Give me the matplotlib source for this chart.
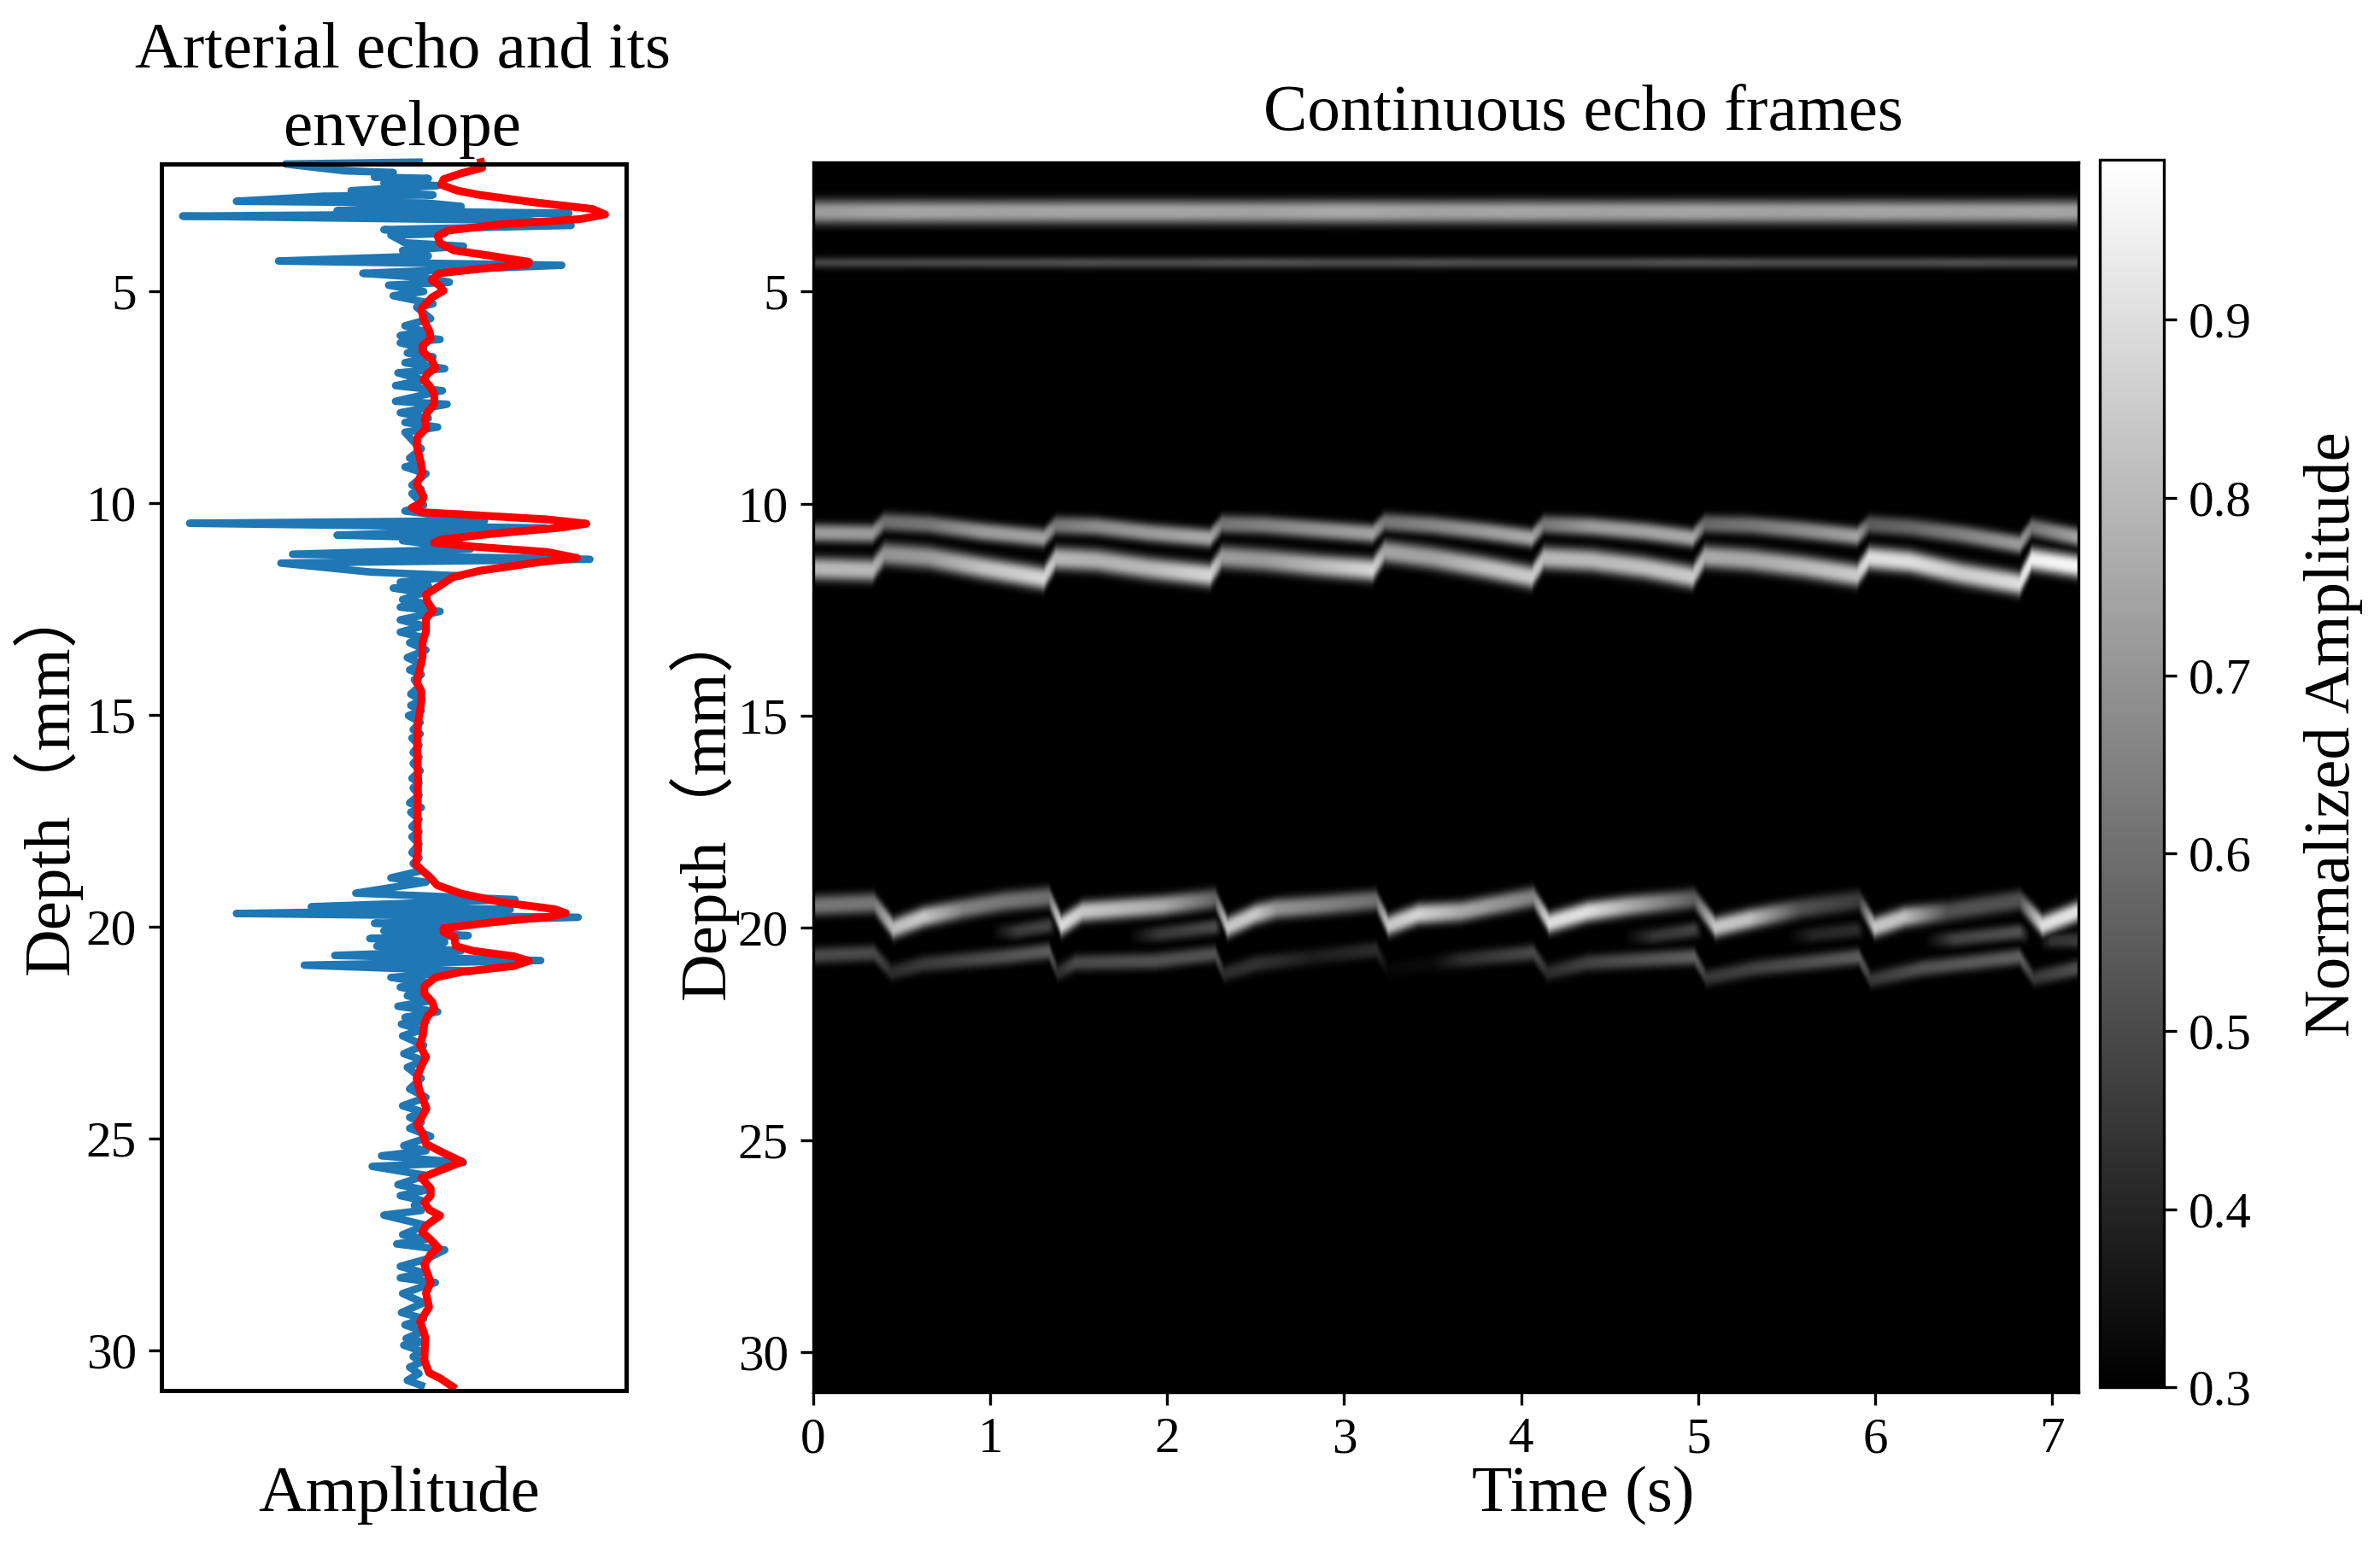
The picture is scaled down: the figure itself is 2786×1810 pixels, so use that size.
import numpy as np
import matplotlib
matplotlib.use('Agg')
import matplotlib.pyplot as plt

plt.rcParams['font.family'] = ['Liberation Serif', 'Noto Sans CJK SC']

W, H = 2787, 1810

# ---- left panel: echo turning points (depth mm, amplitude) ----
echo_left_depth = [2.00,2.16,2.31,2.45,2.63,2.76,2.88,3.10,3.23,3.55,3.68,3.86,4.04,4.29,4.58,4.86,5.11,5.38,5.82,6.05,6.22,6.46,6.69,6.93,7.23,7.60,7.87,8.10,8.33,8.57,8.94,9.15,9.58,9.78,10.19,10.48,10.76,10.89,11.21,11.42,11.63,11.87,12.01,12.28,12.46,12.76,13.05,13.30,13.65,13.94,14.17,14.51,14.78,15.02,15.35,15.55,15.89,16.15,16.50,16.73,17.08,17.30,17.64,17.88,18.25,18.51,18.85,19.21,19.53,19.69,19.92,20.10,20.28,20.46,20.68,20.91,21.20,21.43,21.63,21.88,22.14,22.30,22.58,23.00,23.32,23.83,24.23,24.50,24.76,25.17,25.41,25.66,26.09,26.35,26.58,26.81,27.27,27.49,28.02,28.29,28.66,29.11,29.40,29.72,29.88,30.15,30.40,30.71]
echo_left_amp = [-0.55,-0.30,-0.17,-0.13,-0.27,-0.39,-0.76,-0.33,-0.99,-0.13,-0.10,-0.04,-0.05,-0.58,-0.22,-0.11,-0.09,0.01,-0.04,-0.06,-0.06,-0.03,-0.04,-0.07,-0.08,-0.08,-0.06,-0.04,-0.04,0.0,-0.02,-0.04,-0.01,-0.01,-0.04,-0.96,-0.33,-0.05,-0.52,-0.57,-0.19,-0.06,-0.09,-0.05,-0.06,-0.06,-0.06,-0.02,-0.03,-0.02,0.0,-0.015,-0.015,-0.025,-0.005,-0.01,-0.005,-0.005,-0.01,-0.005,-0.02,-0.015,-0.01,-0.01,-0.01,-0.005,-0.10,-0.25,-0.44,-0.76,-0.17,-0.13,-0.19,-0.16,-0.34,-0.47,-0.10,-0.06,-0.03,-0.07,-0.04,-0.055,-0.05,-0.045,-0.03,-0.02,-0.05,-0.02,-0.02,-0.045,-0.14,-0.18,-0.07,-0.06,0.0,-0.13,-0.05,-0.075,-0.06,-0.06,-0.05,-0.055,-0.04,-0.035,-0.045,-0.005,-0.02,-0.03]
echo_right_depth = [1.955,2.20,2.34,2.51,2.73,2.92,3.00,3.16,3.33,3.45,3.64,3.94,4.17,4.39,4.68,4.79,5.01,5.30,5.65,5.95,6.14,6.36,6.55,6.83,7.10,7.35,7.67,8.00,8.21,8.72,9.05,9.31,9.68,10.05,10.42,10.59,10.83,11.09,11.33,11.72,11.95,12.12,12.37,12.56,12.90,13.18,13.47,13.80,14.05,14.34,14.65,14.90,15.18,15.45,15.72,16.00,16.32,16.60,16.90,17.19,17.47,17.76,18.05,18.38,18.68,18.95,19.36,19.59,19.78,20.00,20.21,20.37,20.57,20.80,21.05,21.32,21.53,21.76,22.01,22.22,22.44,22.80,23.16,23.58,24.03,24.38,24.62,24.95,25.29,25.57,25.87,26.22,26.46,26.70,27.05,27.38,27.63,27.85,28.17,28.40,28.88,29.25,29.55,29.80,30.02,30.28,30.55,30.83]
echo_right_amp = [0.02,-0.09,0.06,0.10,0.08,0.05,0.20,0.66,0.47,0.67,0.13,0.21,0.06,0.63,0.04,0.15,0.04,0.08,0.07,0.04,0.11,0.04,0.08,0.13,0.04,0.12,0.14,0.06,0.10,0.03,0.03,0.05,0.03,0.04,0.30,0.56,0.20,0.24,0.75,0.20,0.06,0.04,0.04,0.11,0.04,0.04,0.05,0.03,0.03,0.02,0.03,0.03,0.025,0.025,0.02,0.02,0.025,0.02,0.02,0.03,0.02,0.02,0.02,0.02,0.03,0.05,0.43,0.41,0.70,0.12,0.23,0.13,0.20,0.54,0.25,0.05,0.03,0.06,0.10,0.05,0.03,0.04,0.04,0.03,0.05,0.04,0.03,0.07,0.05,0.21,0.05,0.05,0.03,0.03,0.05,0.05,0.13,0.05,0.04,0.09,0.04,0.04,0.04,0.03,0.03,0.03,0.02,0.03]
envelope_depth = [1.955,2.09,2.22,2.36,2.49,2.63,2.73,2.90,3.06,3.19,3.30,3.43,3.57,3.70,3.87,4.04,4.17,4.31,4.37,4.46,4.58,4.74,4.88,4.99,5.15,5.42,5.68,5.95,6.12,6.29,6.42,6.63,6.81,6.96,7.10,7.23,7.43,7.67,7.87,8.04,8.24,8.44,8.64,8.98,9.28,9.55,9.85,10.0,10.11,10.22,10.27,10.39,10.49,10.58,10.73,10.86,10.94,11.03,11.16,11.30,11.40,11.60,11.75,11.95,12.16,12.32,12.53,12.73,13.03,13.30,13.64,14.0,14.24,14.44,14.68,15.18,15.72,16.53,17.54,18.21,18.53,18.68,18.85,19.02,19.22,19.42,19.59,19.68,19.76,19.90,20.04,20.13,20.24,20.46,20.57,20.70,20.81,20.93,21.07,21.20,21.41,21.58,21.78,21.95,22.12,22.29,22.58,22.79,23.08,23.29,23.58,23.88,24.29,24.46,24.67,24.88,25.13,25.30,25.55,25.68,25.93,26.18,26.35,26.51,26.68,26.82,27.06,27.21,27.39,27.58,27.73,27.98,28.40,28.65,28.98,29.32,29.69,30.24,30.53,30.66,30.86]
envelope_amp = [0.285,0.29,0.20,0.125,0.115,0.185,0.28,0.505,0.76,0.815,0.71,0.36,0.145,0.10,0.11,0.17,0.33,0.49,0.485,0.305,0.105,0.075,0.11,0.125,0.075,0.03,0.04,0.065,0.07,0.035,0.035,0.075,0.09,0.055,0.04,0.065,0.085,0.085,0.055,0.045,0.05,0.015,0.01,0.025,0.035,0.01,0.04,0.03,-0.01,0.035,0.20,0.57,0.735,0.63,0.33,0.115,0.085,0.25,0.57,0.695,0.53,0.28,0.165,0.11,0.05,0.055,0.08,0.05,0.05,0.035,0.035,0.02,0.012,0.03,0.03,0.016,0.012,0.016,0.013,0.016,0.007,0.035,0.07,0.097,0.20,0.37,0.60,0.647,0.587,0.33,0.125,0.125,0.17,0.177,0.25,0.425,0.49,0.425,0.20,0.09,0.043,0.043,0.077,0.087,0.056,0.043,0.036,0.023,0.05,0.03,0.01,0.023,0.052,0.036,0.012,0.036,0.05,0.11,0.204,0.144,0.03,0.07,0.07,0.043,0.063,0.11,0.05,0.034,0.07,0.103,0.07,0.043,0.07,0.05,0.063,0.025,0.047,0.043,0.063,0.11,0.164]

# ---- right panel: echo bands ----
flat_t = [0,.5,1,1.5,2,2.5,3,3.5,4,4.5,5,5.5,6,6.5,7,7.15]
band1_amp = [.72,.75,.74,.75,.75,.74,.76,.74,.75,.74,.75,.74,.75,.74,.75,.74]
band2_amp = [.48,.49,.50,.51,.50,.52,.50,.51,.50,.50,.52,.50,.50,.51,.50,.50]
band1_depth = 3.1
band2_depth = 4.3

upper_t = [0,.33,.40,.65,.95,1.30,1.37,1.60,1.9,2.24,2.31,2.55,2.85,3.16,3.23,3.5,3.8,4.06,4.13,4.4,4.7,4.97,5.04,5.3,5.6,5.90,5.97,6.2,6.5,6.82,6.89,7.15]
wall_a_depth = [10.68,10.70,10.42,10.48,10.65,10.80,10.50,10.53,10.68,10.80,10.47,10.50,10.60,10.70,10.42,10.50,10.65,10.80,10.48,10.53,10.65,10.80,10.47,10.50,10.62,10.76,10.48,10.55,10.72,10.95,10.55,10.78]
wall_b_depth = [11.52,11.56,11.18,11.26,11.5,11.75,11.28,11.33,11.52,11.68,11.25,11.32,11.45,11.55,11.12,11.27,11.5,11.72,11.27,11.33,11.5,11.72,11.24,11.32,11.48,11.68,11.27,11.36,11.65,11.88,11.3,11.47]
wall_a_amp = [.72,.72,.6,.62,.72,.74,.62,.68,.72,.76,.62,.65,.7,.74,.62,.66,.72,.76,.62,.72,.74,.76,.58,.62,.68,.74,.55,.58,.65,.72,.62,.74]
wall_b_amp = [.8,.8,.7,.72,.82,.88,.8,.78,.8,.88,.72,.72,.8,.88,.74,.74,.82,.85,.8,.8,.82,.85,.76,.76,.8,.85,.9,.9,.85,.9,.95,.97]

lower_c_t = [0,.34,.45,.62,.85,1.08,1.33,1.40,1.52,1.97,2.27,2.34,2.50,2.62,2.85,3.18,3.25,3.42,3.66,4.07,4.16,4.38,4.62,4.98,5.10,5.29,5.58,5.91,6.0,6.17,6.41,6.82,6.95,7.15]
lower_c_depth = [19.48,19.42,20.02,19.75,19.55,19.38,19.28,19.95,19.62,19.48,19.32,19.99,19.68,19.55,19.48,19.35,19.95,19.68,19.62,19.28,19.89,19.62,19.48,19.32,19.99,19.8,19.55,19.35,19.99,19.75,19.62,19.35,19.95,19.62]
lower_c_amp = [.62,.62,.81,.84,.65,.62,.6,.9,.84,.76,.57,.84,.84,.7,.66,.6,.84,.87,.76,.65,.9,.9,.76,.55,.84,.82,.52,.46,.84,.82,.52,.52,.9,.92]

lower_d_t = [0,.34,.44,.62,1.07,1.33,1.38,1.48,1.93,2.27,2.32,2.50,2.83,3.18,3.25,3.5,3.66,4.07,4.15,4.38,4.98,5.05,5.32,5.91,5.98,6.27,6.82,6.9,7.15]
lower_d_depth = [20.66,20.6,21.06,20.86,20.69,20.56,21.06,20.83,20.79,20.62,21.09,20.86,20.69,20.52,21.0,20.85,20.76,20.59,21.06,20.83,20.69,21.19,20.96,20.69,21.23,20.96,20.69,21.19,20.96]
lower_d_amp = [.5,.5,.42,.46,.52,.55,.42,.5,.52,.52,.42,.44,.38,.42,.32,.33,.42,.5,.42,.48,.56,.45,.48,.55,.45,.52,.56,.45,.52]

lower_e_t = [1.0,1.15,1.33,1.37,1.78,1.95,2.27,2.31,4.58,4.75,4.98,5.03,5.5,5.65,5.9,5.95,6.28,6.45,6.82,6.88,6.93,7.0,7.15]
lower_e_depth = [20.1,20.08,19.95,20.0,20.2,20.15,19.98,20.0,20.22,20.2,20.05,20.1,20.2,20.17,20.05,20.1,20.3,20.27,20.1,20.2,20.35,20.3,20.3]
lower_e_amp = [.3,.46,.48,.3,.3,.45,.5,.3,.3,.44,.48,.3,.3,.4,.42,.3,.3,.48,.52,.3,.3,.44,.46]

x_ticks = [0,1,2,3,4,5,6,7]
depth_ticks = [5,10,15,20,25,30]
cbar_ticks = [.3,.4,.5,.6,.7,.8,.9]
VMIN, VMAX = 0.3, 0.99
TMAX = 7.15

# grid for the B-mode image
times = np.linspace(0, TMAX, 1100)
depths = np.linspace(1.95, 30.95, 700)
Z = np.full((depths.size, times.size), VMIN)

def add_band(t, d, a, sigma, power=2.0):
    global Z
    if np.isscalar(d):
        d = [d, d]
        dt = [t[0], t[-1]]
    else:
        dt = t
    c = np.interp(times, dt, d)
    am = np.interp(times, t, a)
    inside = (times >= t[0]) & (times <= t[-1])
    am = np.where(inside, am, VMIN)
    band = VMIN + (am - VMIN)[None, :] * np.exp(-0.5 * (np.abs(depths[:, None] - c[None, :]) / sigma) ** power)
    Z = np.maximum(Z, band)

add_band(flat_t, band1_depth, band1_amp, 0.22, 2.6)
add_band(flat_t, band2_depth, band2_amp, 0.095)
add_band(upper_t, wall_a_depth, wall_a_amp, 0.17, 2.6)
add_band(upper_t, wall_b_depth, wall_b_amp, 0.21, 2.6)
add_band(lower_c_t, lower_c_depth, lower_c_amp, 0.19, 2.6)
add_band(lower_d_t, lower_d_depth, lower_d_amp, 0.15, 2.4)
add_band(lower_e_t, lower_e_depth, lower_e_amp, 0.14, 2.4)

def frac(x0, y0, x1, y1):
    return [x0 / W, 1 - y1 / H, (x1 - x0) / W, (y1 - y0) / H]

def place_ylabel(ax, x, y):
    ax.yaxis.label.set_verticalalignment('center')
    ax.yaxis.label.set_horizontalalignment('center')
    ax.yaxis.set_label_coords(x, y, transform=fig.transFigure)

def place_xlabel(ax, x, y):
    ax.xaxis.label.set_verticalalignment('center')
    ax.xaxis.set_label_coords(x, y, transform=fig.transFigure)

fig = plt.figure(figsize=(W / 300, H / 300), dpi=300)
ax1 = fig.add_axes(frac(189, 192, 733, 1628))
ax2 = fig.add_axes(frac(952, 190, 2433, 1630))
cax = fig.add_axes(frac(2458, 187, 2533, 1624))

FS_LABEL = 18.5
FS_TICK = 14.2

# left
order = np.argsort(echo_left_depth + echo_right_depth)
echo_d = np.array(echo_left_depth + echo_right_depth)[order]
echo_a = np.array(echo_left_amp + echo_right_amp)[order]
ax1.plot(echo_a, echo_d, color='#1f77b4', lw=2.1, clip_on=False)
ax1.plot(envelope_amp, envelope_depth, color='red', lw=2.2, clip_on=False)
ax1.set_ylim(30.95, 2.0)
ax1.set_xticks([])
ax1.set_yticks(depth_ticks)
ax1.tick_params(labelsize=FS_TICK)
for s in ax1.spines.values():
    s.set_linewidth(1.2)
ax1.set_xlabel('Amplitude', fontsize=FS_LABEL)
ax1.set_ylabel('Depth（mm）', fontsize=FS_LABEL)
place_xlabel(ax1, 0.1677, 0.0328)
place_ylabel(ax1, 0.0197, 0.4973)
ax1.set_title('Arterial echo and its\nenvelope', fontsize=FS_LABEL, x=0.169, y=0.9415,
              transform=fig.transFigure, va='center', ha='center', linespacing=1.42)

# right
im = ax2.imshow(Z, cmap='gray', vmin=VMIN, vmax=VMAX, aspect='auto',
                extent=[0, TMAX, depths[-1], depths[0]], interpolation='bilinear')
ax2.set_ylim(30.95, 1.95)
ax2.set_xticks(x_ticks)
ax2.set_yticks(depth_ticks)
ax2.tick_params(labelsize=FS_TICK)
ax2.set_xlabel('Time (s)', fontsize=FS_LABEL)
ax2.set_ylabel('Depth（mm）', fontsize=FS_LABEL)
place_xlabel(ax2, 0.665, 0.0328)
place_ylabel(ax2, 0.2953, 0.4816)
ax2.set_title('Continuous echo frames', fontsize=FS_LABEL, x=0.665, y=0.9263,
              transform=fig.transFigure, va='center', ha='center')

cb = fig.colorbar(im, cax=cax)
cb.set_ticks(cbar_ticks)
cb.ax.tick_params(labelsize=FS_TICK)
cb.set_label('Normalized Amplitude', fontsize=FS_LABEL)
place_ylabel(cb.ax, 0.980, 0.5248)

fig.savefig('out.png', dpi=300)
